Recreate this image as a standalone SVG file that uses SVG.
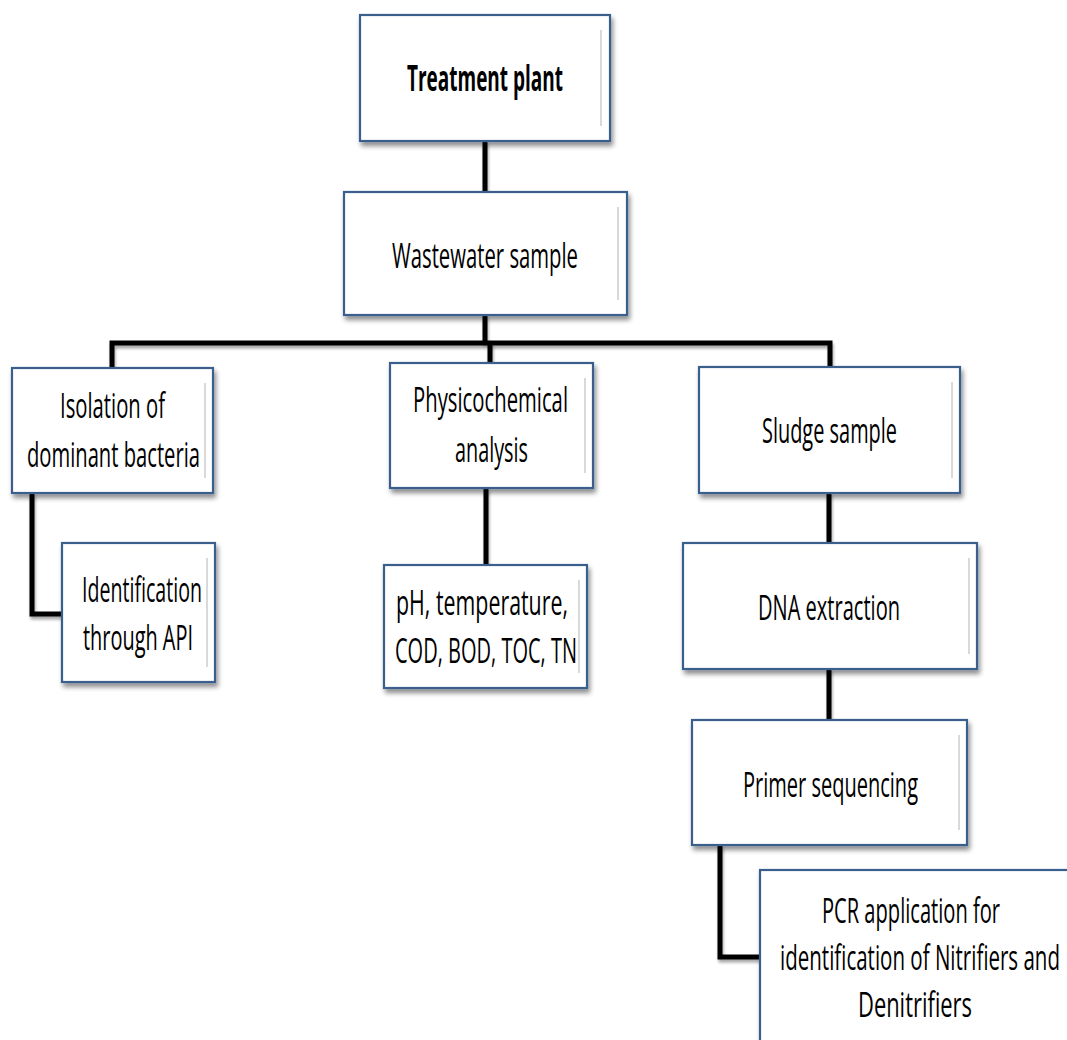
<svg xmlns="http://www.w3.org/2000/svg" width="1067" height="1040" viewBox="0 0 1067 1040">
<style>
.box{fill:#ffffff;stroke:#3b5e8c;stroke-width:2.2;filter:url(#sh)}
.bev{stroke:#d9d9d9;stroke-width:2;fill:none}
.t{font-family:"Open Sans","Liberation Sans",sans-serif;font-size:35px;fill:#000}
.b{font-weight:bold}
.c{fill:none;stroke:#000;stroke-width:5;stroke-linejoin:miter;filter:url(#csh)}
</style>
<defs>
<filter id="sh" x="-10%" y="-10%" width="130%" height="130%">
<feGaussianBlur in="SourceAlpha" stdDeviation="2.5"/>
<feOffset dx="2" dy="4" result="o"/>
<feComponentTransfer><feFuncA type="linear" slope="0.45"/></feComponentTransfer>
<feMerge><feMergeNode/><feMergeNode in="SourceGraphic"/></feMerge>
</filter>
<filter id="csh" filterUnits="userSpaceOnUse" x="0" y="0" width="1067" height="1040">
<feGaussianBlur in="SourceAlpha" stdDeviation="1.5"/>
<feOffset dx="1" dy="3" result="o"/>
<feComponentTransfer><feFuncA type="linear" slope="0.35"/></feComponentTransfer>
<feMerge><feMergeNode/><feMergeNode in="SourceGraphic"/></feMerge>
</filter>
</defs>

<g id="connectors">
<polyline class="c" points="485,141 485,192"/>
<polyline class="c" points="485,315 485,343"/>
<polyline class="c" points="112,368 112,343 830,343 830,367"/>
<polyline class="c" points="490,343 490,363"/>
<polyline class="c" points="32,493 32,614 62,614"/>
<polyline class="c" points="486,488 486,565"/>
<polyline class="c" points="829,493 829,543"/>
<polyline class="c" points="829,669 829,720"/>
<polyline class="c" points="720,845 720,957 760,957"/>
</g>

<g id="n-treatment">
<rect class="box" x="360" y="15" width="250" height="126"/>
<line class="bev" x1="601" y1="30" x2="601" y2="126"/>
<text class="t b" x="407" y="91" textLength="156" lengthAdjust="spacingAndGlyphs">Treatment plant</text>
</g>

<g id="n-wastewater">
<rect class="box" x="344" y="192" width="283" height="123"/>
<line class="bev" x1="618" y1="207" x2="618" y2="300"/>
<text class="t" x="392" y="268" textLength="186" lengthAdjust="spacingAndGlyphs">Wastewater sample</text>
</g>

<g id="n-isolation">
<rect class="box" x="12" y="368" width="201" height="125"/>
<line class="bev" x1="205" y1="383" x2="205" y2="478"/>
<text class="t" x="60" y="418" textLength="105" lengthAdjust="spacingAndGlyphs">Isolation of</text>
<text class="t" x="27" y="467" textLength="173" lengthAdjust="spacingAndGlyphs">dominant bacteria</text>
</g>

<g id="n-identification">
<rect class="box" x="62" y="543" width="153" height="139"/>
<line class="bev" x1="207" y1="558" x2="207" y2="667"/>
<text class="t" x="82" y="602" textLength="120" lengthAdjust="spacingAndGlyphs">Identification</text>
<text class="t" x="83" y="650" textLength="110" lengthAdjust="spacingAndGlyphs">through API</text>
</g>

<g id="n-physico">
<rect class="box" x="390" y="363" width="203" height="125"/>
<line class="bev" x1="585" y1="378" x2="585" y2="473"/>
<text class="t" x="413" y="412" textLength="155" lengthAdjust="spacingAndGlyphs">Physicochemical</text>
<text class="t" x="455" y="462" textLength="73" lengthAdjust="spacingAndGlyphs">analysis</text>
</g>

<g id="n-ph">
<rect class="box" x="384" y="565" width="203" height="123"/>
<line class="bev" x1="579" y1="580" x2="579" y2="673"/>
<text class="t" x="396" y="615" textLength="172" lengthAdjust="spacingAndGlyphs">pH, temperature,</text>
<text class="t" x="395" y="663" textLength="182" lengthAdjust="spacingAndGlyphs">COD, BOD, TOC, TN</text>
</g>

<g id="n-sludge">
<rect class="box" x="699" y="367" width="261" height="126"/>
<line class="bev" x1="952" y1="382" x2="952" y2="478"/>
<text class="t" x="762" y="443" textLength="135" lengthAdjust="spacingAndGlyphs">Sludge sample</text>
</g>

<g id="n-dna">
<rect class="box" x="683" y="543" width="294" height="126"/>
<line class="bev" x1="969" y1="558" x2="969" y2="654"/>
<text class="t" x="758" y="620" textLength="142" lengthAdjust="spacingAndGlyphs">DNA extraction</text>
</g>

<g id="n-primer">
<rect class="box" x="692" y="720" width="275" height="125"/>
<line class="bev" x1="959" y1="735" x2="959" y2="830"/>
<text class="t" x="743" y="797" textLength="175" lengthAdjust="spacingAndGlyphs">Primer sequencing</text>
</g>

<g id="n-pcr">
<rect class="box" x="760" y="870" width="330" height="200"/>
<text class="t" x="822" y="923" textLength="178" lengthAdjust="spacingAndGlyphs">PCR application for</text>
<text class="t" x="780" y="970" textLength="280" lengthAdjust="spacingAndGlyphs">identification of Nitrifiers and</text>
<text class="t" x="858" y="1017" textLength="114" lengthAdjust="spacingAndGlyphs">Denitrifiers</text>
</g>
</svg>
